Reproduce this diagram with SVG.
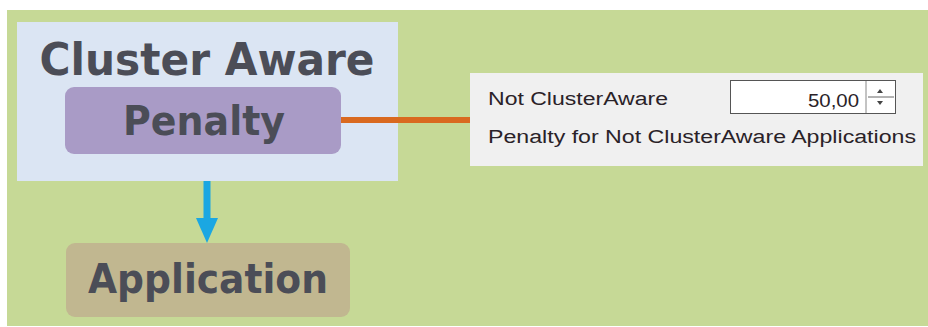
<svg xmlns="http://www.w3.org/2000/svg" width="928" height="327" viewBox="0 0 928 327">
<style>
.big{font-family:"DejaVu Sans","Liberation Sans",sans-serif;font-weight:bold;fill:#4b4d57}
.ui{font-family:"Liberation Sans","Arial",sans-serif;font-size:18px;fill:#2a2228}
</style>
<defs>
<marker id="ah" markerWidth="25" markerHeight="22" refX="0" refY="11" orient="auto" markerUnits="userSpaceOnUse" viewBox="0 0 25 22">
<path d="M0,0 L25,11 L0,22 Z" fill="#1ba7e2"/>
</marker>
</defs>
<rect x="0" y="0" width="928" height="327" fill="#ffffff"/>
<rect x="7" y="10" width="921" height="316" fill="#c6d996"/>
<g id="cluster-aware">
<rect x="17" y="22" width="381" height="159" fill="#dbe5f3"/>
<text class="big" x="207" y="75" font-size="44" text-anchor="middle" textLength="335" lengthAdjust="spacingAndGlyphs">Cluster Aware</text>
</g>
<g id="penalty">
<rect x="65" y="87" width="276" height="67" rx="9" fill="#a99bc6"/>
<text class="big" x="204" y="135" font-size="40" text-anchor="middle" textLength="162" lengthAdjust="spacingAndGlyphs">Penalty</text>
</g>
<g id="application">
<rect x="66" y="243" width="284" height="74" rx="9" fill="#c1b790"/>
<text class="big" x="208" y="293" font-size="40" text-anchor="middle" textLength="240" lengthAdjust="spacingAndGlyphs">Application</text>
</g>
<g id="settings-panel">
<rect x="470" y="73" width="453" height="93" fill="#f0f0f0"/>
<text class="ui" x="488" y="105" textLength="180" lengthAdjust="spacingAndGlyphs">Not ClusterAware</text>
<rect x="730.5" y="80.5" width="165" height="33" fill="#ffffff" stroke="#555" stroke-width="1"/>
<text class="ui" x="859" y="107" text-anchor="end" font-size="19" textLength="51" lengthAdjust="spacingAndGlyphs">50,00</text>
<line x1="866" y1="81" x2="866" y2="113" stroke="#888" stroke-width="1"/>
<path d="M877,93 L880,89 L883,93 Z" fill="#444"/>
<line x1="868" y1="97" x2="894" y2="97" stroke="#666" stroke-width="1"/>
<path d="M877,101 L883,101 L880,105 Z" fill="#444"/>
<text class="ui" x="488" y="143" textLength="428" lengthAdjust="spacingAndGlyphs">Penalty for Not ClusterAware Applications</text>
</g>
<g id="connectors">
<line x1="341" y1="120" x2="470" y2="120" stroke="#d9691f" stroke-width="6"/>
<line x1="207" y1="181" x2="207" y2="218" stroke="#1ba7e2" stroke-width="7" marker-end="url(#ah)"/>
</g>
</svg>
